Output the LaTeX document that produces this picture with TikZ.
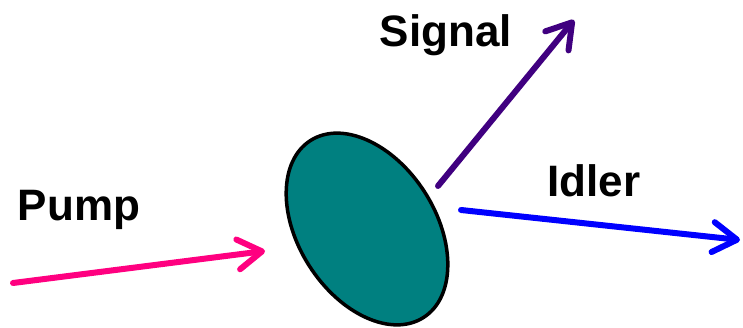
\documentclass[tikz,border=0pt]{standalone}
\usepackage{fontspec}
\setmainfont{Liberation Sans}
\usetikzlibrary{arrows.meta,shapes.geometric}
\definecolor{pumpcol}{RGB}{255,0,128}
\definecolor{sigcol}{RGB}{64,0,128}
\definecolor{idlcol}{RGB}{0,0,255}
\definecolor{crystal}{RGB}{0,128,128}
\tikzset{
  beam/.style={line width=6pt, line cap=round, -{Straight Barb[length=24pt,width=30pt,round]}},
  lbl/.style={font=\fontsize{44}{50}\selectfont\bfseries, inner sep=0pt, anchor=base, text=black}
}
\begin{document}
\begin{tikzpicture}[x=1pt,y=-1pt]
\useasboundingbox (0,0) rectangle (743,328);
\node[ellipse, draw=black, fill=crystal, line width=3.5pt, inner sep=0pt, outer sep=0pt,
      minimum width=137pt, minimum height=210pt, rotate=32.6] (xtal) at (367,229) {};
\coordinate (pumpA) at (13,283);
\coordinate (pumpB) at (265,251);
\coordinate (sigA) at (438,186);
\coordinate (sigB) at (574,20);
\coordinate (idlA) at (461,210);
\coordinate (idlB) at (740,240);
\draw[beam, pumpcol] (pumpA) -- (pumpB);
\draw[beam, sigcol] (sigA) -- (sigB);
\draw[beam, idlcol] (idlA) -- (idlB);
\node[lbl] (pump) at (79,221) {Pump};
\node[lbl] (signal) at (446,47) {Signal};
\node[lbl] (idler) at (594,197) {Idler};
\end{tikzpicture}
\end{document}
